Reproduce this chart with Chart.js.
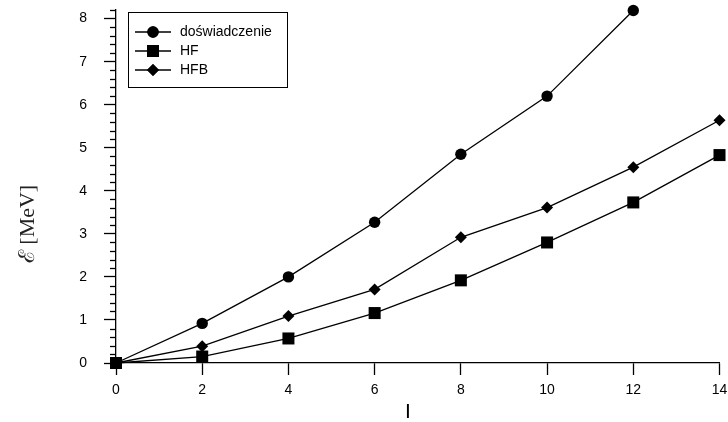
<!DOCTYPE html>
<html>
<head>
<meta charset="utf-8">
<script src="https://cdn.jsdelivr.net/npm/chart.js@4/dist/chart.umd.min.js"></script>
<style>
  html, body { margin: 0; padding: 0; background: #fff; }
</style>
</head>
<body>
<canvas id="myChart" width="728" height="422"></canvas>
<script>
// spin values on the x axis
let spins = [0, 2, 4, 6, 8, 10, 12, 14];

// excitation energies in MeV
let expValues = [0, 0.92, 2.0, 3.27, 4.85, 6.2, 8.19];
let hfValues = [0, 0.15, 0.57, 1.16, 1.92, 2.8, 3.73, 4.83];
let hfbValues = [0, 0.39, 1.09, 1.71, 2.92, 3.61, 4.55, 5.64];

let seriesNames = ['doświadczenie', 'HF', 'HFB'];
let xTickValues = [0, 2, 4, 6, 8, 10, 12, 14];
let yTickValues = [0, 1, 2, 3, 4, 5, 6, 7, 8];

let yMax = 8.2;
let sansFont = '"Liberation Sans", Arial, sans-serif';

function toPoints(values) {
    return values.map((v, i) => ({ x: spins[i], y: v }));
}

function seriesStyle(label, values, pointStyle, radius) {
    return {
        label: label,
        data: toPoints(values),
        borderColor: '#000',
        backgroundColor: '#000',
        borderWidth: 1.3,
        pointStyle: pointStyle,
        pointRadius: radius,
        pointBorderWidth: 0,
        pointBackgroundColor: '#000',
        fill: false,
        tension: 0,
        clip: false
    };
}

// small ticks every 0.2 MeV between the labelled ones
const minorTicks = {
    id: 'minorTicks',
    afterDraw(chart) {
        const ctx = chart.ctx;
        const y = chart.scales.y;
        ctx.save();
        ctx.strokeStyle = '#000';
        ctx.lineWidth = 1.3;
        for (let k = 0; k <= Math.round(yMax * 5); k++) {
            if (k % 5 === 0) continue;
            const py = Math.round(y.getPixelForValue(k / 5)) + 0.5;
            ctx.beginPath();
            ctx.moveTo(y.right - 6, py);
            ctx.lineTo(y.right, py);
            ctx.stroke();
        }
        ctx.restore();
    }
};

// boxed legend inside the plot, marker drawn across a short line
const boxLegend = {
    id: 'boxLegend',
    afterDraw(chart) {
        const ctx = chart.ctx;
        ctx.save();
        ctx.strokeStyle = '#000';
        ctx.lineWidth = 1;
        ctx.strokeRect(128.5, 12.5, 159, 75);
        const rows = [32, 51, 70];
        chart.data.datasets.forEach((ds, i) => {
            const yy = rows[i];
            ctx.strokeStyle = '#000';
            ctx.lineWidth = 1.3;
            ctx.beginPath();
            ctx.moveTo(135, yy);
            ctx.lineTo(171, yy);
            ctx.stroke();
            ctx.fillStyle = '#000';
            Chart.helpers.drawPoint(ctx, { pointStyle: ds.pointStyle, radius: ds.pointRadius, rotation: 0, borderWidth: 0 }, 153, yy);
            ctx.fill();
            ctx.font = '14px ' + sansFont;
            ctx.textBaseline = 'middle';
            ctx.textAlign = 'left';
            ctx.fillText(ds.label, 180, yy + 0.5);
        });
        ctx.restore();
    }
};

// axis titles
const axisTitles = {
    id: 'axisTitles',
    afterDraw(chart) {
        const ctx = chart.ctx;
        ctx.save();
        ctx.fillStyle = '#222';
        ctx.font = '22px "Liberation Serif", "DejaVu Serif", serif';
        ctx.textAlign = 'center';
        ctx.textBaseline = 'middle';
        ctx.translate(28, 224);
        ctx.rotate(-Math.PI / 2);
        ctx.fillText('ℰ [MeV]', 0, 0);
        ctx.restore();

        ctx.save();
        ctx.fillStyle = '#000';
        ctx.font = '21px ' + sansFont;
        ctx.textAlign = 'center';
        ctx.textBaseline = 'middle';
        ctx.fillText('I', 408, 412);
        ctx.restore();
    }
};

let ctx = document.getElementById('myChart').getContext('2d');

let myChart = new Chart(ctx, {
    type: 'line',
    data: {
        datasets: [
            seriesStyle(seriesNames[0], expValues, 'circle', 5.7),
            seriesStyle(seriesNames[1], hfValues, 'rect', 8.5),
            seriesStyle(seriesNames[2], hfbValues, 'rectRot', 6)
        ]
    },
    options: {
        responsive: false,
        animation: false,
        devicePixelRatio: 1,
        layout: { padding: { top: 10, right: 6, left: 0, bottom: 0 } },
        plugins: {
            legend: { display: false },
            tooltip: { enabled: false }
        },
        scales: {
            x: {
                type: 'linear',
                min: 0,
                max: 14,
                afterBuildTicks: (scale) => { scale.ticks = xTickValues.map(v => ({ value: v })); },
                afterFit: (scale) => {
                    scale.height = 59;
                    scale.paddingLeft = 0;
                    scale.paddingRight = 0;
                },
                grid: { drawOnChartArea: false, tickLength: 12, tickColor: '#000', tickWidth: 1.3 },
                border: { color: '#000', width: 1.3 },
                ticks: { color: '#000', font: { family: sansFont, size: 14 }, padding: 7, maxRotation: 0 }
            },
            y: {
                type: 'linear',
                min: 0,
                max: yMax,
                afterBuildTicks: (scale) => { scale.ticks = yTickValues.map(v => ({ value: v })); },
                afterFit: (scale) => {
                    scale.width = 116;
                    scale.paddingTop = 0;
                    scale.paddingBottom = 0;
                },
                grid: { drawOnChartArea: false, tickLength: 12, tickColor: '#000', tickWidth: 1.3 },
                border: { color: '#000', width: 1.3 },
                ticks: { color: '#000', font: { family: sansFont, size: 14 }, padding: 17 }
            }
        }
    },
    plugins: [minorTicks, boxLegend, axisTitles]
});
</script>
</body>
</html>
